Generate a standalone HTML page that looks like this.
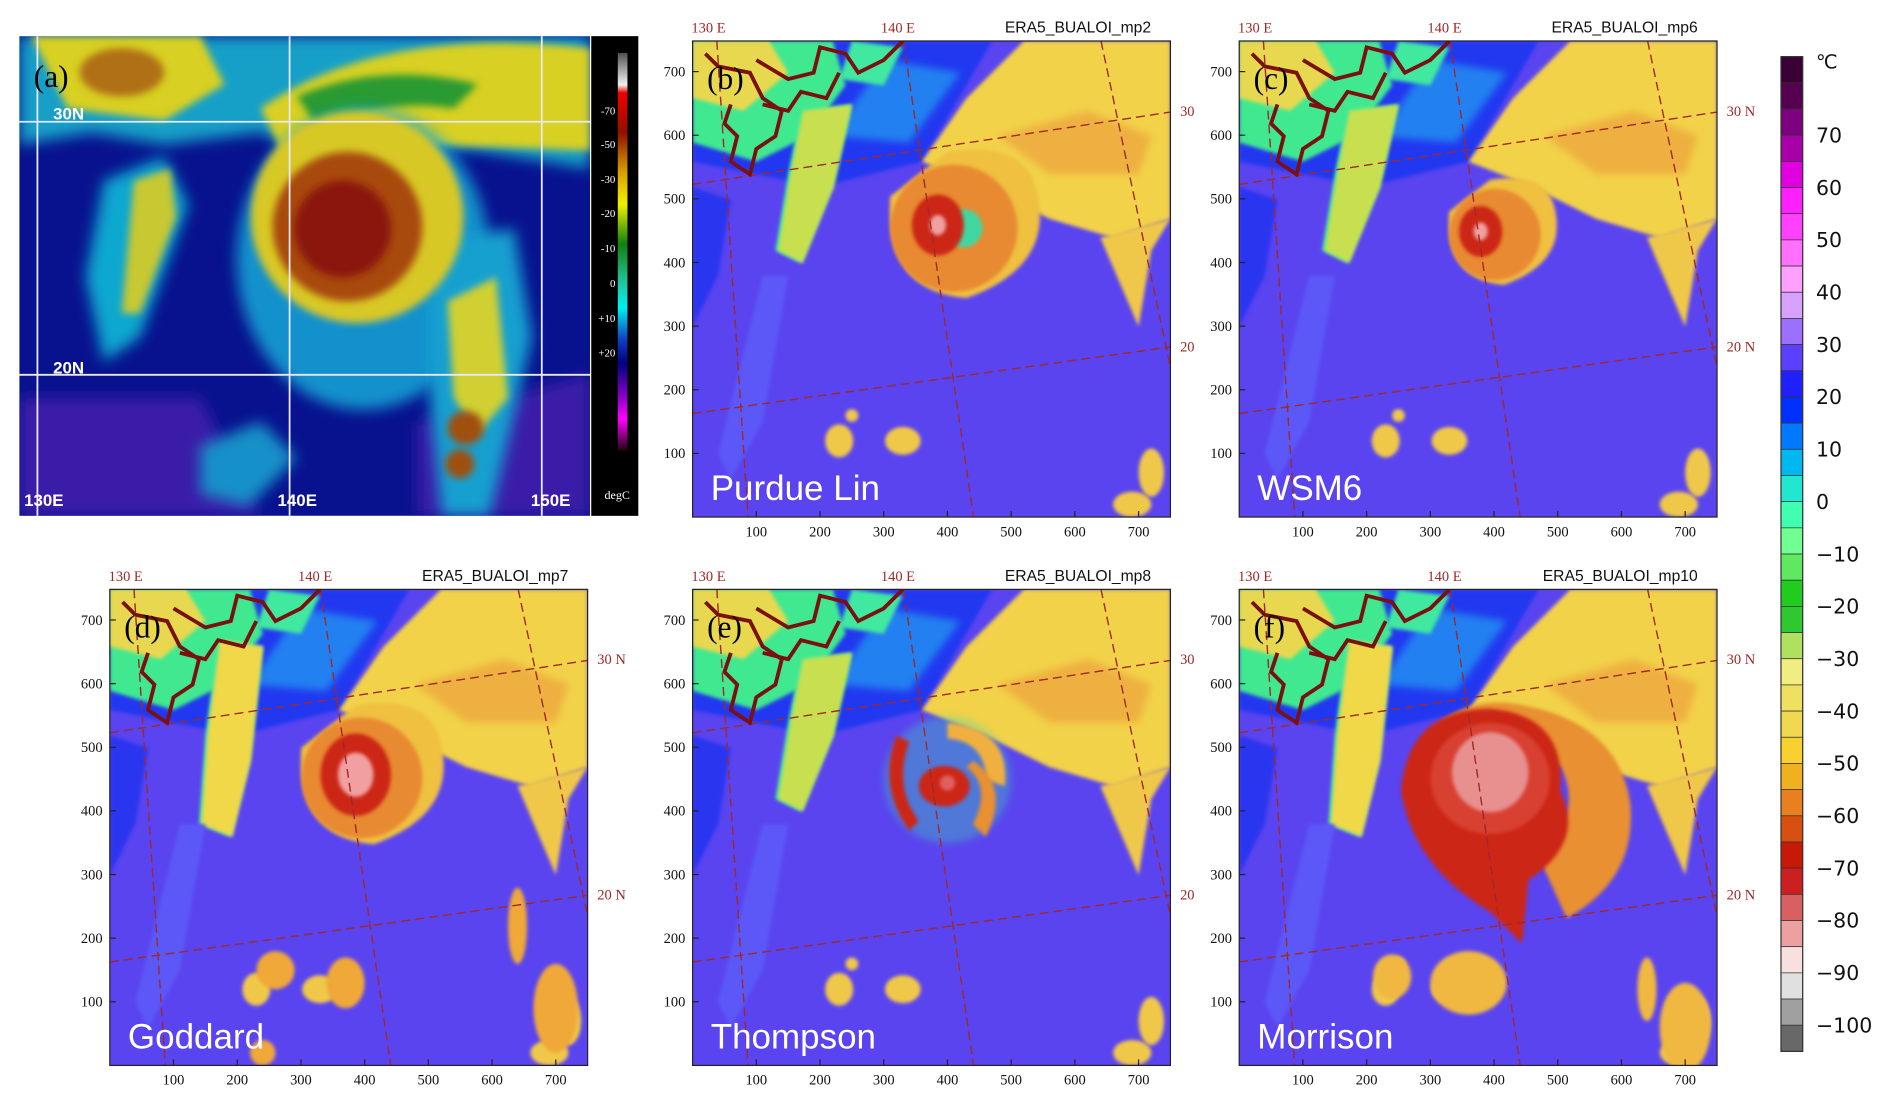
<!DOCTYPE html>
<html><head><meta charset="utf-8"><style>
html,body{margin:0;padding:0;background:#fff;overflow:hidden}
svg{display:block}
</style></head><body>
<svg id="fig" width="1892" height="1104" viewBox="0 0 1568 916" preserveAspectRatio="none" xmlns="http://www.w3.org/2000/svg" font-family="Liberation Serif, serif">
<defs>
<filter id="bl" x="-20%" y="-20%" width="140%" height="140%"><feGaussianBlur stdDeviation="3"/></filter>
<filter id="bl2" x="-20%" y="-20%" width="140%" height="140%"><feGaussianBlur stdDeviation="6"/></filter>
<linearGradient id="agrad" x1="0" y1="0" x2="0" y2="1">
<stop offset="0" stop-color="#505050"/><stop offset="0.08" stop-color="#f0f0f0"/><stop offset="0.1" stop-color="#f00000"/>
<stop offset="0.2" stop-color="#901000"/><stop offset="0.3" stop-color="#d8a000"/><stop offset="0.38" stop-color="#f0f000"/>
<stop offset="0.48" stop-color="#108010"/><stop offset="0.58" stop-color="#20c8a0"/><stop offset="0.64" stop-color="#00f0f0"/>
<stop offset="0.72" stop-color="#1040c0"/><stop offset="0.78" stop-color="#000080"/><stop offset="0.86" stop-color="#8000c0"/>
<stop offset="0.92" stop-color="#ff00ff"/><stop offset="1" stop-color="#200010"/></linearGradient>
</defs>
</svg>
<script>
const NS='http://www.w3.org/2000/svg';
const svg=document.getElementById('fig');
// ---- data ----
const panelIds=['b','c','d','e','f'];
const panelTitles=['ERA5_BUALOI_mp2','ERA5_BUALOI_mp6','ERA5_BUALOI_mp7','ERA5_BUALOI_mp8','ERA5_BUALOI_mp10'];
const schemeNames=['Purdue Lin','WSM6','Goddard','Thompson','Morrison'];
const stormX=[400,394,386,380,394];
const stormY=[455,445,453,440,432];
const stormOuter=[100,72,95,100,150];
const stormRed=[48,40,65,40,125];
const stormCore=[16,14,35,12,60];
const xTicks=[100,200,300,400,500,600,700];
const yTicks=[100,200,300,400,500,600,700];
const latLabels30=['30','30 N','30 N','30','30 N'];
const latLabels20=['20','20 N','20 N','20','20 N'];
const cbarColors=['#3a0035','#560050','#7d0080','#a800a8','#e000e0','#ff20ff','#ff40ff','#ff70ff','#ffa0ff','#d8a0ff','#9c70ff','#5c40ff','#2020ff','#0030ff','#0078ff','#00b8f0','#20e8d0','#40ffb0','#70ff90','#60e860','#20cc20','#30c830','#b0e060','#f0ee80','#f0e060','#f0d850','#f8d030','#f0b020','#e88020','#d85010','#c81808','#cc2020','#d86060','#eca0a0','#f8e0e0','#e0e0e0','#a0a0a0','#686868'];
const cbarLabels=['70','60','50','40','30','20','10','0','\u221210','\u221220','\u221230','\u221240','\u221250','\u221260','\u221270','\u221280','\u221290','\u2212100'];
const aLabels=['-70','-50','-30','-20','-10','0','+10','+20'];
const aLabelY=[91,119,148,176,205,234,263,292];

function el(tag,attrs,parent){const e=document.createElementNS(NS,tag);for(const k in attrs)e.setAttribute(k,attrs[k]);(parent||svg).appendChild(e);return e;}
function txt(s,attrs,parent){const e=el('text',attrs,parent);e.textContent=s;return e;}

// ---- panel a ----
(function(){
const g=el('g',{transform:'translate(16,30)'});


const cp=el('clipPath',{id:'clipa'});el('rect',{x:0,y:0,width:473,height:398},cp);
const c=el('g',{'clip-path':'url(#clipa)'},g);
el('rect',{x:0,y:0,width:473,height:398,fill:'#08128e'},c);
el('path',{d:'M0 300 L150 300 L200 398 L0 398Z M330 320 L473 280 L473 398 L330 398Z',fill:'#3a1ca8',filter:'url(#bl2)'},c);
el('path',{d:'M0 0 L473 0 L473 110 L380 95 L300 90 L260 110 L200 80 L120 90 L60 80 L0 90Z',fill:'#18a0c8',filter:'url(#bl2)'},c);
el('path',{d:'M200 60 Q300 -10 473 10 L473 95 L340 90 L260 110 L220 100Z',fill:'#d8d020',filter:'url(#bl)'},c);
el('path',{d:'M230 50 Q300 20 380 40 L360 60 Q300 50 250 80Z',fill:'#2a9a30',filter:'url(#bl)'},c);
el('path',{d:'M10 0 L150 0 L170 40 L120 70 L40 60Z',fill:'#d8d020',filter:'url(#bl)'},c);
el('ellipse',{cx:85,cy:30,rx:35,ry:20,fill:'#b07018',filter:'url(#bl)'},c);
el('path',{d:'M70 120 L120 100 L140 140 L100 250 L70 270 L55 200Z',fill:'#10a8d0',filter:'url(#bl2)'},c);
el('path',{d:'M95 120 L125 110 L130 150 L100 230 L85 230Z',fill:'#c8c830',filter:'url(#bl)'},c);
el('ellipse',{cx:285,cy:185,rx:105,ry:125,fill:'#18a8d8',opacity:0.85,filter:'url(#bl2)'},c);
el('path',{d:'M340 170 L410 160 L425 250 L390 398 L350 398 L340 300Z',fill:'#14a0d0',filter:'url(#bl2)'},c);
el('path',{d:'M355 220 L395 200 L405 300 L380 330 L360 300Z',fill:'#d0d030',filter:'url(#bl)'},c);
el('ellipse',{cx:370,cy:325,rx:15,ry:14,fill:'#a05010',filter:'url(#bl)'},c);
el('ellipse',{cx:365,cy:355,rx:12,ry:12,fill:'#a05010',filter:'url(#bl)'},c);
el('ellipse',{cx:280,cy:150,rx:88,ry:88,fill:'#d8c828',filter:'url(#bl)'},c);
el('ellipse',{cx:272,cy:158,rx:62,ry:62,fill:'#a84a10',filter:'url(#bl)'},c);
el('ellipse',{cx:268,cy:160,rx:40,ry:40,fill:'#8a1808',filter:'url(#bl)'},c);
el('path',{d:'M150 340 L200 320 L230 350 L190 390 L150 380Z',fill:'#1890c8',filter:'url(#bl2)'},c);
[15,224,433].forEach(x=>el('line',{x1:x,y1:0,x2:x,y2:398,stroke:'#e8e8f8','stroke-width':1.5},c));
[71,281].forEach(y=>el('line',{x1:0,y1:y,x2:473,y2:y,stroke:'#e8e8f8','stroke-width':1.5},c));
const ls={fill:'#fff',style:'font-family:"Liberation Sans",sans-serif;font-weight:bold','font-size':14};
txt('30N',Object.assign({x:28,y:69},ls),g);txt('20N',Object.assign({x:28,y:280},ls),g);
txt('130E',Object.assign({x:4,y:390},ls),g);txt('140E',Object.assign({x:214,y:390},ls),g);txt('150E',Object.assign({x:424,y:390},ls),g);
txt('(a)',{x:12,y:42,'font-size':26,fill:'#000'},g);
el('rect',{x:474,y:0,width:39,height:398,fill:'#000'},g);
el('rect',{x:496,y:14,width:8,height:330,fill:'url(#agrad)'},g);
aLabels.forEach((s,i)=>{txt(s,{x:494,y:aLabelY[i]-30+4,'font-size':9,fill:'#fff','text-anchor':'end'},g);});
txt('degC',{x:485,y:384,'font-size':10,fill:'#fff'},g);
})();

// ---- model panels ----
const panelPos=[[574,34],[1027,34],[91,489],[574,489],[1027,489]];
const PW=396,PH=395,S=PW/750;
panelIds.forEach((id,i)=>{
 const [px,py]=panelPos[i];
 const g=el('g',{});
 
 
 const cp=el('clipPath',{id:'clip'+id});el('rect',{x:px,y:py,width:PW,height:PH},cp);
 const c=el('g',{'clip-path':'url(#clip'+id+')'},g);
 const d=el('g',{transform:`translate(${px},${py+PH}) scale(${S},${-PH/750})`},c);
 el('rect',{x:0,y:0,width:750,height:750,fill:'#5a44f0'},d);
 el('path',{d:'M0 560 L200 520 L360 560 L470 750 L0 750Z',fill:'#2238f0',filter:'url(#bl)'},d);
 el('path',{d:'M0 300 L40 380 L60 500 L0 520Z',fill:'#2a36f0',filter:'url(#bl)'},d);
 el('path',{d:'M220 600 L340 590 L420 700 L300 720Z',fill:'#2080f0',filter:'url(#bl2)'},d);
 el('path',{d:'M0 750 L220 750 L240 680 L180 600 L100 560 L0 590Z',fill:'#40e890',filter:'url(#bl)'},d);
 el('path',{d:'M0 750 L120 750 L150 700 L80 640 L0 660Z',fill:'#e8d850',filter:'url(#bl)'},d);
 el('path',{d:'M250 750 L330 740 L300 680 L230 690Z',fill:'#40e8a0',filter:'url(#bl)'},d);
 const lb=(i===2||i===4)?'M170 670 L240 660 L220 480 L190 360 L140 380 L150 520Z':'M170 640 L250 650 L220 520 L170 400 L130 420 L150 540Z';
 el('path',{d:lb,fill:'#40e8a0',filter:'url(#bl)'},d);
 el('path',{d:lb,fill:(i===2||i===4)?'#f0d848':'#c8e050',transform:'translate(8 0) scale(0.97 1)',filter:'url(#bl)'},d);
 el('path',{d:'M110 380 L150 380 L110 150 L60 60 L40 100 Z',fill:'#5c58f8',filter:'url(#bl)'},d);
 el('path',{d:'M360 560 L430 660 L520 750 L750 750 L750 470 L660 440 L560 470 L460 520Z',fill:'#f2d24a',filter:'url(#bl)'},d);
 el('path',{d:'M480 600 L620 640 L720 600 L700 540 L560 540Z',fill:'#eeb040',filter:'url(#bl2)'},d);
 el('path',{d:'M640 440 L700 300 L720 420 L750 470Z',fill:'#f0c84a',filter:'url(#bl)'},d);
 const cx=stormX[i],cy=stormY[i],R=stormOuter[i],r=stormRed[i],k=stormCore[i];
 const sg=el('g',{},d);
 
 
 if(i===4){
  el('path',{d:`M${cx-110} ${cy+60} Q${cx-80} ${cy+140} ${cx+20} ${cy+140} Q${cx+200} ${cy+120} ${cx+220} ${cy-20} Q${cx+230} ${cy-140} ${cx+120} ${cy-200} L${cx+70} ${cy-90} Q${cx+150} ${cy-40} ${cx+110} ${cy+40} Z`,fill:'#e89030',filter:'url(#bl)'},sg);
  el('path',{d:`M${cx-140} ${cy} Q${cx-130} ${cy+130} ${cx} ${cy+130} Q${cx+120} ${cy+120} ${cx+110} ${cy} Q${cx+150} ${cy-80} ${cx+60} ${cy-140} L${cx+50} ${cy-240} L${cx} ${cy-190} Q${cx-120} ${cy-120} ${cx-140} ${cy}Z`,fill:'#cc2818',filter:'url(#bl)'},sg);
  el('ellipse',{cx:cx,cy:cy+20,rx:r*0.75,ry:r*0.7,fill:'#d84030',filter:'url(#bl)'},sg);
  el('ellipse',{cx:cx,cy:cy+30,rx:k,ry:k*1.05,fill:'#e89090',filter:'url(#bl)'},sg);
 } else if(i===3){
  el('circle',{cx:cx+20,cy:cy+10,r:R,fill:'#3ad8b0',opacity:0.35,filter:'url(#bl2)'},sg);
  el('path',{d:`M${cx+20} ${cy+100} Q${cx+120} ${cy+90} ${cx+110} ${cy} L${cx+80} ${cy+10} Q${cx+80} ${cy+70} ${cx+20} ${cy+75}Z`,fill:'#f0b040',filter:'url(#bl)'},sg);
  el('path',{d:`M${cx-60} ${cy+80} Q${cx-90} ${cy} ${cx-40} ${cy-70} L${cx-25} ${cy-55} Q${cx-65} ${cy} ${cx-40} ${cy+70}Z`,fill:'#cc2818',filter:'url(#bl)'},sg);
  el('ellipse',{cx:cx+15,cy:cy,rx:r,ry:r*0.8,fill:'#cc2818',filter:'url(#bl)'},sg);
  el('circle',{cx:cx+20,cy:cy+5,r:k,fill:'#e06060',filter:'url(#bl)'},sg);
  el('path',{d:`M${cx+60} ${cy+40} Q${cx+120} ${cy} ${cx+80} ${cy-80} L${cx+60} ${cy-60} Q${cx+90} ${cy} ${cx+50} ${cy+30}Z`,fill:'#e89030',filter:'url(#bl)'},sg);
 } else {
  el('path',{d:`M${cx-R*0.9} ${cy+R*0.5} Q${cx-R} ${cy-R} ${cx+R*0.3} ${cy-R*1.1} Q${cx+R*1.7} ${cy-R*0.6} ${cx+R*1.4} ${cy+R*0.6} Q${cx+R*1.2} ${cy+R*1.4} ${cx} ${cy+R*1.2}Z`,fill:'#f0c040',filter:'url(#bl)'},sg);
  el('circle',{cx:cx+R*0.1,cy:cy,r:R,fill:'#e88a30',filter:'url(#bl)'},sg);
  if(i===0) el('circle',{cx:cx+25,cy:cy,r:30,fill:'#40d8a0',filter:'url(#bl)'},sg);
  el('ellipse',{cx:cx-(i===2?0:15),cy:cy+5,rx:r*0.85,ry:r,fill:'#cc2818',filter:'url(#bl)'},sg);
  el('ellipse',{cx:cx-(i===2?0:15),cy:cy+5,rx:k*0.8,ry:k,fill:'#f0a0a0',filter:'url(#bl)'},sg);
 }
 [[230,120,22,26],[330,120,28,22],[250,160,10,10],[720,70,20,38],[690,20,30,20]].forEach(b=>el('ellipse',{cx:b[0],cy:b[1],rx:b[2],ry:b[3],fill:'#f0c848',filter:'url(#bl)'},d));
 if(i===2){[[260,150,30,30],[370,130,30,40],[640,220,15,60],[700,90,35,70],[240,20,20,20]].forEach(b=>el('ellipse',{cx:b[0],cy:b[1],rx:b[2],ry:b[3],fill:'#f0a838',filter:'url(#bl)'},d));}
 if(i===4){[[360,130,60,50],[240,140,30,35],[700,60,40,70],[640,120,15,50]].forEach(b=>el('ellipse',{cx:b[0],cy:b[1],rx:b[2],ry:b[3],fill:'#f0b840',filter:'url(#bl)'},d));}
 const ds={stroke:'#a02828','stroke-width':2.2,'stroke-dasharray':'14 8',fill:'none'};
 el('line',Object.assign({x1:0,y1:524,x2:750,y2:638},ds),d);
 el('line',Object.assign({x1:0,y1:163,x2:750,y2:268},ds),d);
 el('line',Object.assign({x1:38,y1:750,x2:87,y2:0},ds),d);
 el('line',Object.assign({x1:331,y1:750,x2:441,y2:0},ds),d);
 el('line',Object.assign({x1:641,y1:750,x2:800,y2:0},ds),d);
 el('path',{d:'M60 650 L50 620 L70 600 L60 560 L90 540 L100 580 L130 600 L140 640 L110 660 L90 700 L40 710 L20 730 M100 720 L150 690 L190 700 L200 740 L240 730 L260 700 L300 720 L330 750',stroke:'#7a1010','stroke-width':6,fill:'none'},d);
 el('path',{d:'M110 650 L150 640 L170 670 L210 660 L230 700',stroke:'#7a1010','stroke-width':6,fill:'none'},d);
 el('rect',{x:px,y:py,width:PW,height:PH,fill:'none',stroke:'#222','stroke-width':1},g);
 xTicks.forEach(v=>{const x=px+v*S;
  el('line',{x1:x,y1:py+PH,x2:x,y2:py+PH-5,stroke:'#222'},g);
  const t=txt(String(v),{x:x,y:py+PH+16,'font-size':12,'text-anchor':'middle',fill:'#111'},g);
  
  });
 yTicks.forEach(v=>{const y=py+PH-v*S;
  el('line',{x1:px,y1:y,x2:px+5,y2:y,stroke:'#222'},g);
  const t=txt(String(v),{x:px-6,y:y+4,'font-size':12,'text-anchor':'end',fill:'#111'},g);
  
  });
 txt('130 E',{x:px-1,y:py-7,'font-size':12,fill:'#a02828'},g);
 txt('140 E',{x:px+156,y:py-7,'font-size':12,fill:'#a02828'},g);
 const tt=txt(panelTitles[i],{x:px+PW-16,y:py-7,'font-size':13,'text-anchor':'end',fill:'#111',style:'font-family:"Liberation Sans",sans-serif'},g);
 
 
 txt(latLabels30[i],{x:px+PW+8,y:py+PH-638*S+4,'font-size':12,fill:'#a02828'},g);
 txt(latLabels20[i],{x:px+PW+8,y:py+PH-268*S+4,'font-size':12,fill:'#a02828'},g);
 txt('('+id+')',{x:px+12,y:py+40,'font-size':26,fill:'#000'},g);
 const sn=txt(schemeNames[i],{x:px+15,y:py+PH-14,'font-size':29,fill:'#fff',style:'font-family:"Liberation Sans",sans-serif'},g);
 
 
});

// ---- colorbar ----
const cb=el('g',{});


const cbTop=47,cbH=21.72;
cbarColors.forEach((col,i)=>{const r=el('rect',{x:1476,y:cbTop+i*cbH,width:18,height:cbH,fill:col,stroke:'#333','stroke-width':0.6},cb);
 
 });
el('rect',{x:1476,y:cbTop,width:18,height:cbarColors.length*cbH,fill:'none',stroke:'#333','stroke-width':1},cb);
txt('\u2103',{x:1505,y:cbTop+10,'font-size':16,fill:'#111',style:'font-family:"DejaVu Sans",sans-serif'},cb);
cbarLabels.forEach((s,k)=>{const t=txt(s,{x:1505,y:cbTop+(3+2*k)*cbH+6,'font-size':17,fill:'#111',style:'font-family:"DejaVu Sans",sans-serif'},cb);
 
 });
</script>
</body></html>
